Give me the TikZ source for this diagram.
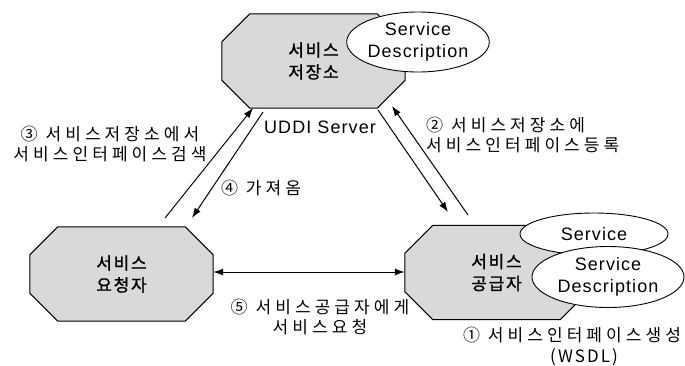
\documentclass[tikz,border=0pt]{standalone}
\usepackage{fontspec}
\setmainfont{Liberation Sans}
\newfontfamily\korfont[LetterSpace=24]{Noto Sans CJK KR}
\newfontfamily\kornarrow[LetterSpace=12]{Noto Sans CJK KR}
\newfontfamily\korboldfont[LetterSpace=10,FakeBold=1.2]{Noto Sans CJK KR}
\newfontfamily\latfont[LetterSpace=6]{Liberation Sans}
\usetikzlibrary{shapes.geometric,arrows.meta,backgrounds}

\tikzset{
  octbox/.style={minimum width=183pt, minimum height=94pt, inner sep=0pt,
    align=center, font=\korboldfont\fontsize{17}{22}\selectfont},
  octline/.style={draw=black, line width=1pt, fill=black!15, line join=miter},
  ell/.style={ellipse, draw=black, line width=0.9pt, fill=white, inner sep=0pt,
    align=center, font=\latfont\fontsize{18}{22}\selectfont},
  lbl/.style={inner sep=0pt, font=\korfont\fontsize{17}{20}\selectfont},
  latlbl/.style={inner sep=0pt, font=\latfont\fontsize{18}{21}\selectfont},
  conn/.style={line width=1pt, -{Latex[length=10pt,width=7pt]}},
  dconn/.style={line width=1pt, {Latex[length=10pt,width=7pt]}-{Latex[length=10pt,width=7pt]}}
}

% octagon outline drawn around a named box node
\newcommand\octoutline[1]{%
  \path[octline] ([xshift=28pt]#1.north west) -- ([xshift=-28pt]#1.north east)
    -- ([yshift=-28pt]#1.north east) -- ([yshift=28pt]#1.south east)
    -- ([xshift=-28pt]#1.south east) -- ([xshift=28pt]#1.south west)
    -- ([yshift=28pt]#1.south west) -- ([yshift=-28pt]#1.north west) -- cycle;}

\begin{document}
\begin{tikzpicture}[x=1pt,y=-1pt]
\useasboundingbox (0,0) rectangle (685,365);

% the three parties
\node[octbox] (repo) at (313.5,61) {서비스\\저장소};
\node[octbox] (req)  at (121.5,274) {서비스\\요청자};
\node[octbox] (prov) at (496.5,272.5) {서비스\\공급자};

\begin{scope}[on background layer]
  \octoutline{repo}
  \octoutline{req}
  \octoutline{prov}
\end{scope}

% descriptions attached to the repository and the provider
\node[ell, minimum width=142pt, minimum height=60pt] (repodesc) at (418,42) {Service\\Description};
\node[ell, minimum width=148pt, minimum height=42pt] (svc) at (594,234) {Service};
\node[ell, minimum width=152pt, minimum height=61pt] (provdesc) at (608,277) {Service\\Description};

\node[latlbl] (uddi) at (320,127) {UDDI Server};

% end points of the slanted connectors
\coordinate (s3) at (165,218);
\coordinate (e3) at (253,108);
\coordinate (s4) at (263,112);
\coordinate (e4) at (192,218);
\coordinate (s2a) at (378,110);
\coordinate (e2a) at (448,212);
\coordinate (s2b) at (468,215);
\coordinate (e2b) at (392,106);

\draw[conn] (s3) -- (e3);
\draw[conn] (s4) -- (e4);
\draw[conn] (s2a) -- (e2a);
\draw[conn] (s2b) -- (e2b);
\draw[dconn] (req.east |- 0,272) -- (prov.west |- 0,272);

% step labels
\node[lbl, align=center] (t3) at (110,144) {③ 서비스저장소에서\\서비스인터페이스검색};
\node[lbl] (t4) at (261,188) {④ 가져옴};
\node[lbl, align=left, anchor=west] (t2) at (426,135) {② 서비스저장소에\\서비스인터페이스등록};
\node[lbl, align=center] (t5) at (320,317) {⑤ 서비스공급자에게\\서비스요청};
\node[lbl] (t1) at (572,335) {① 서비스인터페이스생성};
\node[lbl, font=\kornarrow\fontsize{17}{20}\selectfont] (t1b) at (584,357) {(WSDL)};
\end{tikzpicture}
\end{document}
